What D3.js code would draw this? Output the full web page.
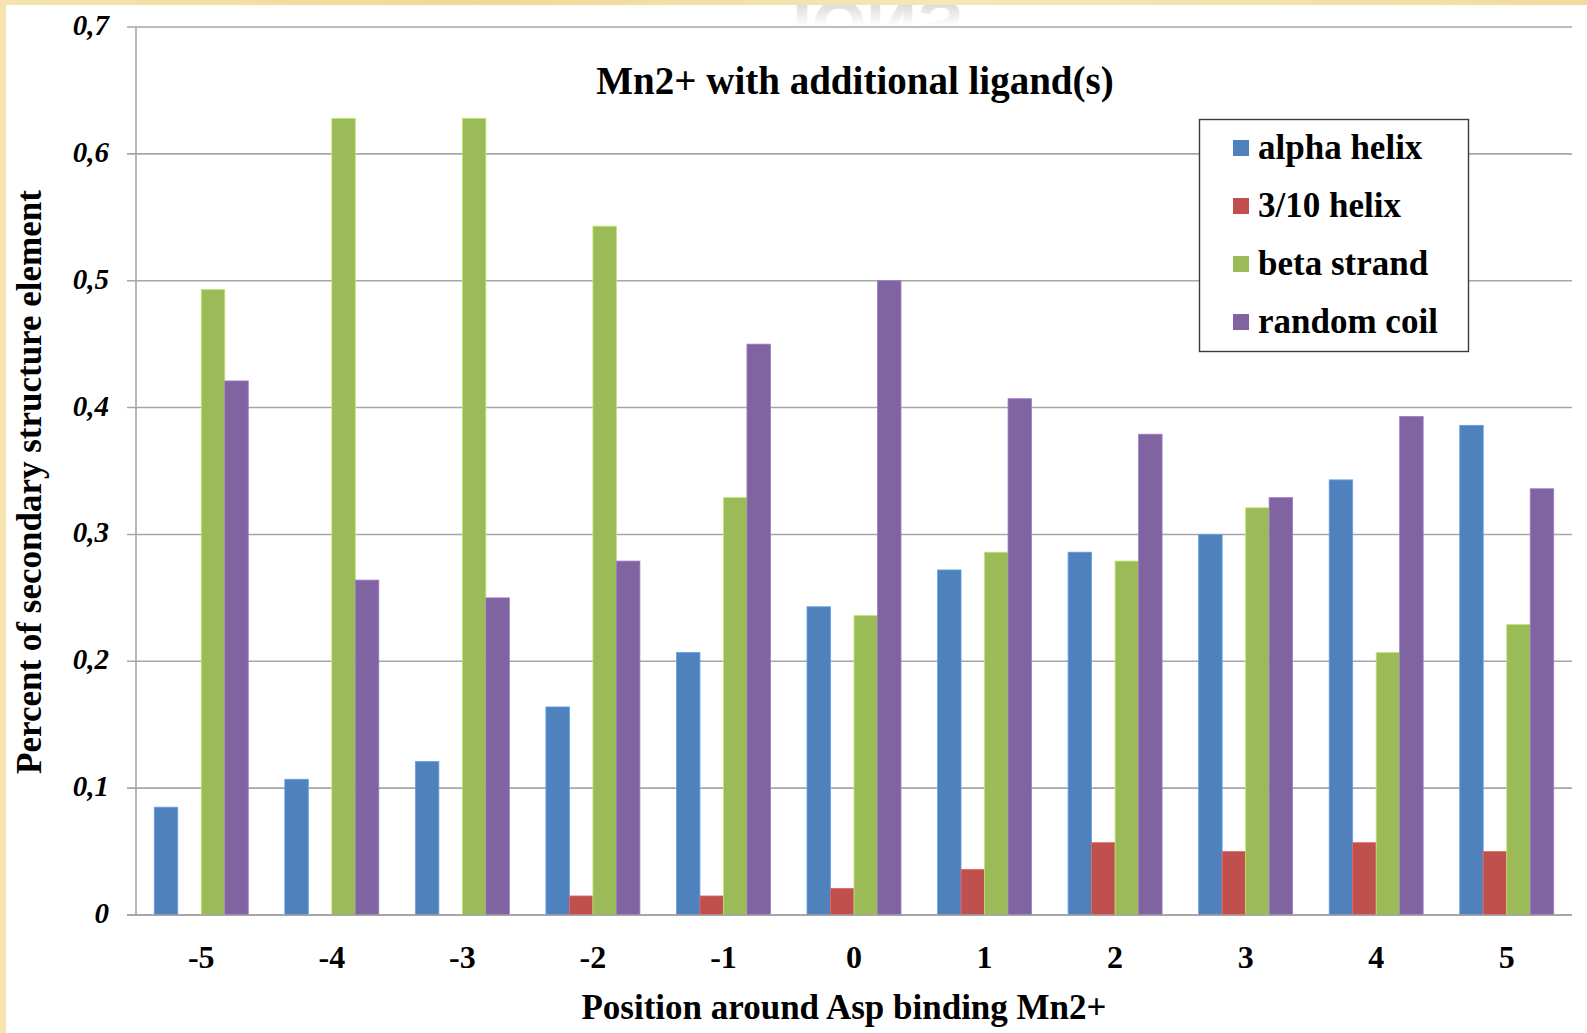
<!DOCTYPE html>
<html>
<head>
<meta charset="utf-8">
<script src="https://cdn.jsdelivr.net/npm/d3@7/dist/d3.min.js"></script>
<style>
html,body{margin:0;padding:0;background:#f2dfa4;}
svg{display:block;}
</style>
</head>
<body>
<svg id="chart" width="1587" height="1033"></svg>
<script>
const categories = ["-5","-4","-3","-2","-1","0","1","2","3","4","5"];
const seriesNames = ["alpha helix","3/10 helix","beta strand","random coil"];
const seriesColors = ["#4F81BD","#C0504D","#9BBB59","#8064A2"];
const alphaHelix  = [0.085,0.107,0.121,0.164,0.207,0.243,0.272,0.286,0.300,0.343,0.386];
const helix310    = [0,0,0,0.015,0.015,0.021,0.036,0.057,0.050,0.057,0.050];
const betaStrand  = [0.493,0.628,0.628,0.543,0.329,0.236,0.286,0.279,0.321,0.207,0.229];
const randomCoil  = [0.421,0.264,0.250,0.279,0.450,0.500,0.407,0.379,0.329,0.393,0.336];
const yTicks = [0,0.1,0.2,0.3,0.4,0.5,0.6,0.7];
const titleText = "Mn2+ with additional ligand(s)";
const xTitle = "Position around Asp binding Mn2+";
const yTitle = "Percent of secondary structure element";

const series = [alphaHelix, helix310, betaStrand, randomCoil];
const svg = d3.select("#chart");
const W = 1587, H = 1033;
const m = {left:136, right:1572, top:27, bottom:915};
const serif = "Liberation Serif, Times New Roman, serif";

// background frame
const defs = svg.append("defs");
const lg = defs.append("linearGradient").attr("id","cream").attr("x1","0").attr("x2","1");
lg.append("stop").attr("offset","0").attr("stop-color","#f5e4ad");
lg.append("stop").attr("offset","0.3").attr("stop-color","#efd995");
lg.append("stop").attr("offset","0.6").attr("stop-color","#f6e7b8");
lg.append("stop").attr("offset","1").attr("stop-color","#f0dc9c");
const wm = defs.append("linearGradient").attr("id","wm").attr("x1","0").attr("x2","0").attr("y1","0").attr("y2","1");
wm.append("stop").attr("offset","0").attr("stop-color","#b5b0a8");
wm.append("stop").attr("offset","0.5").attr("stop-color","#ffffff");
svg.append("rect").attr("width",W).attr("height",H).attr("fill","url(#cream)");
svg.append("rect").attr("x",6).attr("y",5).attr("width",W-6).attr("height",H-5).attr("fill","#fff");
// faded watermark fragment from the slide background
defs.append("clipPath").attr("id","wmclip").append("rect").attr("x",0).attr("y",5).attr("width",W).attr("height",22);
svg.append("g").attr("clip-path","url(#wmclip)")
  .append("text").attr("transform","translate(878,50) scale(-1,1)")
  .attr("text-anchor","middle").attr("font-family","Liberation Sans, Arial, sans-serif")
  .attr("font-weight","bold").attr("font-size",70).attr("fill","url(#wm)").attr("opacity",0.8)
  .text("SNOI");

const x0 = d3.scaleBand().domain(categories).range([m.left, m.right]).paddingInner(0.28).paddingOuter(0.14);
const x1 = d3.scaleBand().domain(d3.range(4)).range([0, x0.bandwidth()]);
const y = d3.scaleLinear().domain([0,0.7]).range([m.bottom, m.top]);

// gridlines
svg.append("g").selectAll("line").data(yTicks).join("line")
  .attr("x1", m.left-9).attr("x2", m.right)
  .attr("y1", d=>y(d)).attr("y2", d=>y(d))
  .attr("stroke","#a6a6a6").attr("stroke-width",1.6);
// y axis line
svg.append("line").attr("x1",m.left).attr("x2",m.left).attr("y1",m.top).attr("y2",m.bottom)
  .attr("stroke","#a6a6a6").attr("stroke-width",1.6);

// y tick labels
svg.append("g").selectAll("text").data(yTicks).join("text")
  .attr("x", 109).attr("y", d=>y(d)+8)
  .attr("text-anchor","end")
  .attr("font-family",serif)
  .attr("font-weight","bold").attr("font-style","italic").attr("font-size",29)
  .text(d => d===0 ? "0" : d3.format(".1f")(d).replace(".",","));

// bars
const g = svg.append("g");
categories.forEach((c,i) => {
  series.forEach((s,j) => {
    const v = s[i];
    if (v <= 0) return;
    g.append("rect")
      .attr("x", x0(c) + x1(j))
      .attr("y", y(v))
      .attr("width", x1.bandwidth())
      .attr("height", y(0) - y(v))
      .attr("fill", seriesColors[j])
      .attr("stroke", d3.color(seriesColors[j]).brighter(0.6))
      .attr("stroke-width", 0.8);
  });
});

// baseline
svg.append("line").attr("x1",m.left-9).attr("x2",m.right).attr("y1",y(0)).attr("y2",y(0))
  .attr("stroke","#a0a0a0").attr("stroke-width",1.6);

// x tick labels
svg.append("g").selectAll("text").data(categories).join("text")
  .attr("x", d => x0(d) + x0.bandwidth()/2)
  .attr("y", 968)
  .attr("text-anchor","middle")
  .attr("font-family",serif)
  .attr("font-weight","bold").attr("font-size",32)
  .text(d=>d);

// titles
svg.append("text").attr("x",855).attr("y",94).attr("text-anchor","middle")
  .attr("font-family",serif)
  .attr("font-weight","bold").attr("font-size",39).text(titleText);
svg.append("text").attr("x",844).attr("y",1019).attr("text-anchor","middle")
  .attr("font-family",serif)
  .attr("font-weight","bold").attr("font-size",35).text(xTitle);
svg.append("text").attr("transform","translate(41,482) rotate(-90)").attr("text-anchor","middle")
  .attr("font-family",serif)
  .attr("font-weight","bold").attr("font-size",35).text(yTitle);

// legend
const lgd = svg.append("g");
lgd.append("rect").attr("x",1199.5).attr("y",119.5).attr("width",269).attr("height",232)
  .attr("fill","#fff").attr("stroke","#3a3a3a").attr("stroke-width",1.4);
seriesNames.forEach((n,j) => {
  const cy = 148 + j*58;
  lgd.append("rect").attr("x",1233).attr("y",cy-8).attr("width",16).attr("height",16).attr("fill",seriesColors[j]);
  lgd.append("text").attr("x",1258).attr("y",cy+11)
    .attr("font-family",serif)
    .attr("font-weight","bold").attr("font-size",35).text(n);
});
</script>
</body>
</html>
